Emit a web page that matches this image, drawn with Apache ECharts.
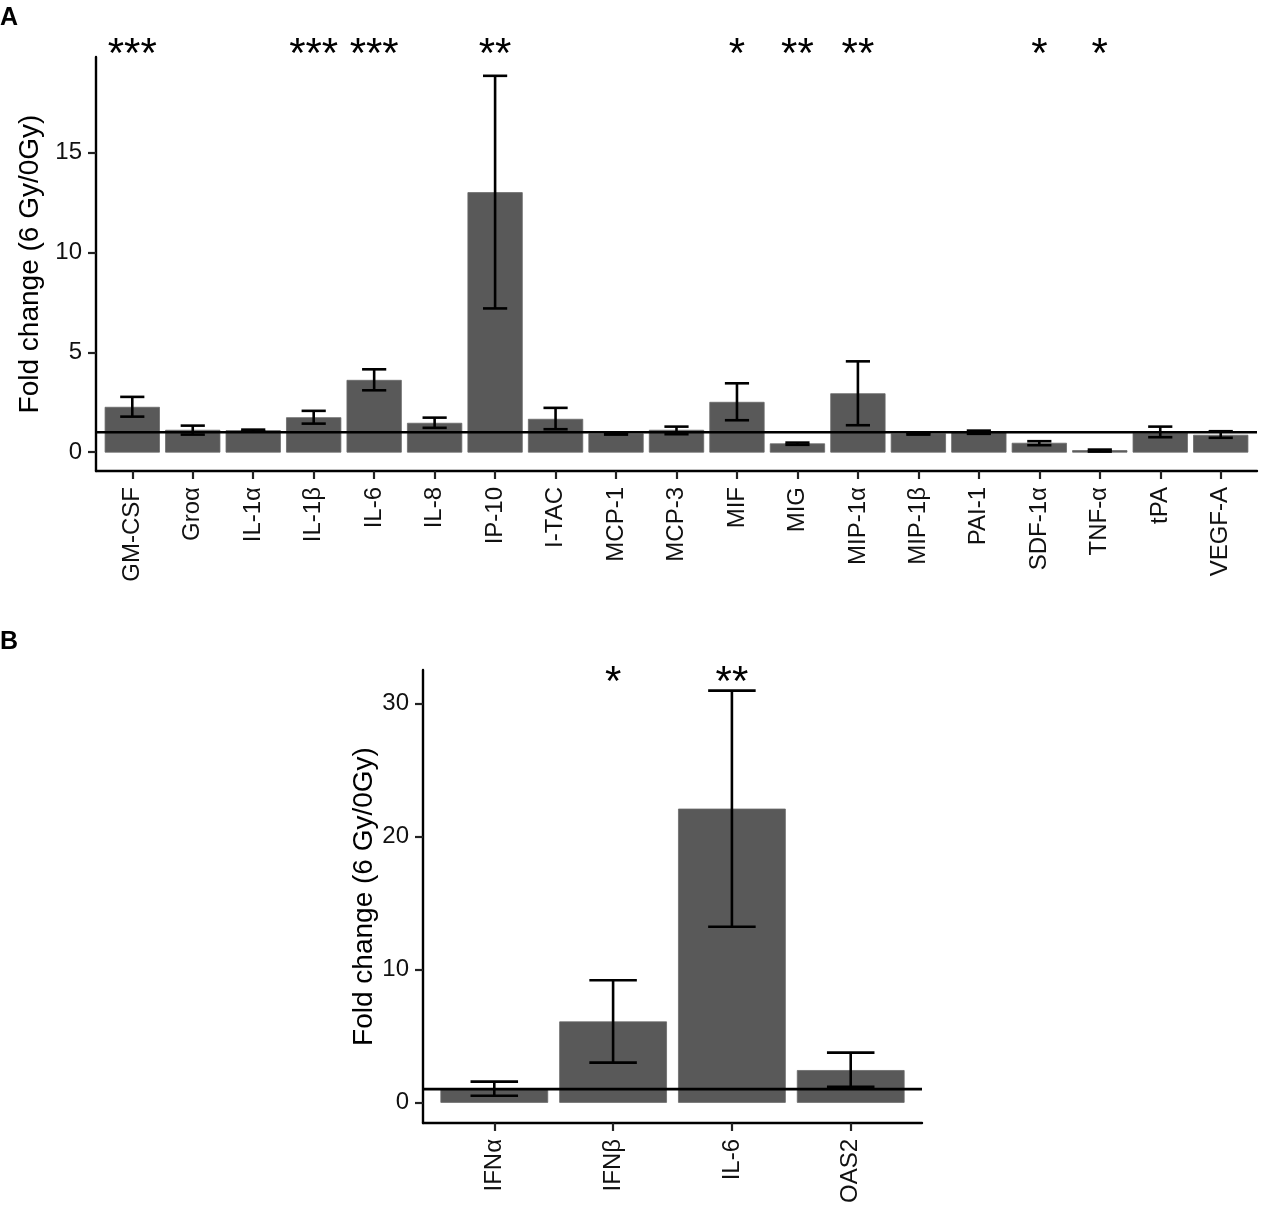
<!DOCTYPE html>
<html lang="en">
<head>
    <meta charset="utf-8">
    <title>Fold change 6 Gy / 0 Gy</title>
    <script src="https://cdn.jsdelivr.net/npm/echarts@6.0.0/dist/echarts.min.js"></script>
    <style>
        html, body { margin: 0; padding: 0; background: #fff; }
        #chart { width: 1261px; height: 1206px; }
    </style>
</head>
<body>
<div id="chart"></div>
<script type="text/javascript">
    // panel A - cytokines
    var catsA = ['GM-CSF', 'Groα', 'IL-1α', 'IL-1β', 'IL-6', 'IL-8', 'IP-10', 'I-TAC', 'MCP-1', 'MCP-3',
        'MIF', 'MIG', 'MIP-1α', 'MIP-1β', 'PAI-1', 'SDF-1α', 'TNF-α', 'tPA', 'VEGF-A'];
    var meanA = [2.25, 1.1, 1.08, 1.73, 3.6, 1.45, 13.0, 1.65, 0.92, 1.1, 2.5, 0.42, 2.93, 0.92, 1.0, 0.45, 0.08, 0.95, 0.85];
    var lowA = [1.78, 0.88, 1.03, 1.43, 3.1, 1.22, 7.2, 1.15, 0.88, 0.9, 1.6, 0.37, 1.35, 0.88, 0.92, 0.35, 0.03, 0.75, 0.72];
    var highA = [2.77, 1.33, 1.13, 2.07, 4.15, 1.73, 18.85, 2.22, 0.96, 1.28, 3.45, 0.48, 4.55, 0.96, 1.08, 0.55, 0.13, 1.28, 1.05];
    var sigA = ['***', '', '', '***', '***', '', '**', '', '', '', '*', '**', '**', '', '', '*', '*', '', ''];
    var ticksA = [0, 5, 10, 15];
    var starYA = 20.33;

    // panel B - interferon genes
    var catsB = ['IFNα', 'IFNβ', 'IL-6', 'OAS2'];
    var meanB = [1.0, 6.06, 22.07, 2.4];
    var lowB = [0.5, 2.99, 13.21, 1.17];
    var highB = [1.56, 9.19, 30.98, 3.74];
    var sigB = ['', '*', '**', ''];
    var ticksB = [0, 10, 20, 30];
    var starYB = 32.2;

    var baseline = 1;   // no change line
    var yTitle = 'Fold change (6 Gy/0Gy)';
    var FONT = 'Liberation Sans';

    function indexList(arr) {
        return arr.map(function (d, i) { return i; });
    }

    // ggplot style padding: 5% on continuous, 0.6 on discrete
    function yRange(high) {
        var top = Math.max.apply(null, high);
        return [-top * 0.05, top * 1.05];
    }

    function barItem(params, api) {
        var x = api.value(0), y = api.value(1);
        var p0 = api.coord([x - 0.45, y]);
        var p1 = api.coord([x + 0.45, 0]);
        return {
            type: 'rect',
            shape: {x: p0[0], y: p0[1], width: p1[0] - p0[0], height: p1[1] - p0[1]},
            style: {fill: '#595959', stroke: '#6a6a6a', lineWidth: 0.8}
        };
    }

    function errItem(params, api) {
        var x = api.value(0);
        var lo = api.coord([x, api.value(1)]);
        var hi = api.coord([x, api.value(2)]);
        var half = api.size([0.2, 0])[0];
        var st = {stroke: '#000', lineWidth: 2.6};
        return {
            type: 'group',
            children: [
                {type: 'line', shape: {x1: lo[0], y1: lo[1], x2: hi[0], y2: hi[1]}, style: st},
                {type: 'line', shape: {x1: hi[0] - half, y1: hi[1], x2: hi[0] + half, y2: hi[1]}, style: st},
                {type: 'line', shape: {x1: lo[0] - half, y1: lo[1], x2: lo[0] + half, y2: lo[1]}, style: st}
            ]
        };
    }

    function starRenderer(sig) {
        return function (params, api) {
            var s = sig[params.dataIndex];
            if (!s) return null;
            var p = api.coord([api.value(0), api.value(1)]);
            return {
                type: 'text',
                style: {
                    x: p[0], y: p[1] + 9, text: s, fill: '#000',
                    fontSize: 42, fontFamily: FONT,
                    align: 'center', verticalAlign: 'middle'
                }
            };
        };
    }

    function xAxisFor(cats, gridIndex) {
        return {
            type: 'value', gridIndex: gridIndex,
            min: -0.6, max: cats.length - 0.4,
            splitLine: {show: false},
            axisLine: {onZero: false, lineStyle: {color: '#000', width: 2.4}},
            axisTick: {customValues: indexList(cats), length: 8, lineStyle: {color: '#222', width: 2.2}},
            axisLabel: {
                customValues: indexList(cats), rotate: 90, margin: 16,
                fontSize: 24, fontFamily: FONT, color: '#111',
                formatter: function (v) { return cats[Math.round(v)]; }
            }
        };
    }

    function yAxisFor(high, ticks, gridIndex) {
        var r = yRange(high);
        return {
            type: 'value', gridIndex: gridIndex,
            min: r[0], max: r[1],
            name: yTitle, nameLocation: 'middle', nameGap: 43, nameRotate: 90,
            nameTextStyle: {fontSize: 28, fontFamily: FONT, color: '#000'},
            splitLine: {show: false},
            axisLine: {onZero: false, lineStyle: {color: '#000', width: 2.4}},
            axisTick: {customValues: ticks, length: 8, lineStyle: {color: '#222', width: 2.2}},
            axisLabel: {customValues: ticks, margin: 14, fontSize: 24, fontFamily: FONT, color: '#111'}
        };
    }

    function panelSeries(cats, mean, low, high, sig, starY, idx) {
        return [
            {
                type: 'custom', xAxisIndex: idx, yAxisIndex: idx, z: 2,
                renderItem: barItem,
                data: mean.map(function (v, i) { return [i, v]; })
            },
            {
                type: 'line', xAxisIndex: idx, yAxisIndex: idx, z: 3,
                symbol: 'none', silent: true,
                lineStyle: {color: '#000', width: 2.6},
                data: [[-0.6, baseline], [cats.length - 0.4, baseline]]
            },
            {
                type: 'custom', xAxisIndex: idx, yAxisIndex: idx, z: 4,
                renderItem: errItem,
                data: mean.map(function (v, i) { return [i, low[i], high[i]]; })
            },
            {
                type: 'custom', xAxisIndex: idx, yAxisIndex: idx, z: 5,
                renderItem: starRenderer(sig),
                data: sig.map(function (s, i) { return [i, starY]; })
            }
        ];
    }

    var myChart = echarts.init(document.getElementById('chart'));
    var option = {
        backgroundColor: '#fff',
        animation: false,
        grid: [
            {left: 96, top: 57, width: 1161, height: 414},
            {left: 423, top: 670, width: 499, height: 458}
        ],
        xAxis: [xAxisFor(catsA, 0), xAxisFor(catsB, 1)],
        yAxis: [yAxisFor(highA, ticksA, 0), yAxisFor(highB, ticksB, 1)],
        graphic: [
            {type: 'text', left: 0, top: 6, style: {text: 'A', fontSize: 25, fontWeight: 'bold', fontFamily: FONT, fill: '#000'}},
            {type: 'text', left: 0, top: 630, style: {text: 'B', fontSize: 25, fontWeight: 'bold', fontFamily: FONT, fill: '#000'}}
        ],
        series: panelSeries(catsA, meanA, lowA, highA, sigA, starYA, 0)
            .concat(panelSeries(catsB, meanB, lowB, highB, sigB, starYB, 1))
    };
    myChart.setOption(option);
</script>
</body>
</html>
